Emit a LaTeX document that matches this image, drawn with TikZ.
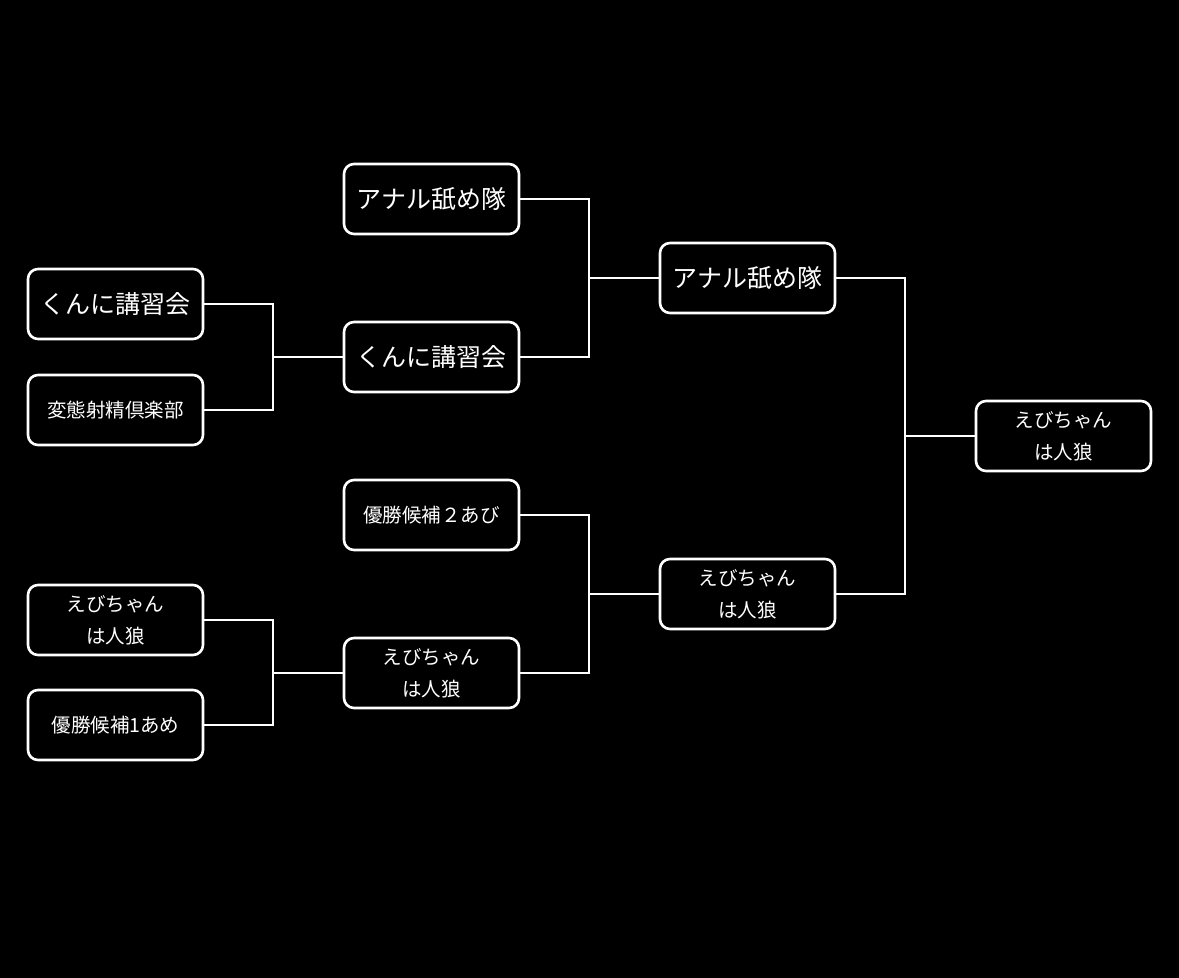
\documentclass[tikz,border=0pt]{standalone}
\usepackage{fontspec}
\setmainfont{Noto Sans CJK JP}
\begin{document}
\begin{tikzpicture}[x=1pt,y=-1pt,
 box/.style={draw=white,line width=2.6pt,rounded corners=10pt,fill=black,minimum width=175pt,minimum height=70pt,text=white,align=center,inner sep=0pt},
 big/.style={font=\fontsize{25}{28}\selectfont},
 sm/.style={font=\fontsize{19.5}{32}\selectfont},
 ln/.style={draw=white,line width=2.6pt}]
\fill[black] (0,0) rectangle (1179,978);
\useasboundingbox (0,0) rectangle (1179,978);
\node[box,big] (a1) at (431.5,199) {アナル舐め隊};
\node[box,big] (a2) at (431.5,357) {くんに講習会};
\node[box,big] (l1) at (115.5,304) {くんに講習会};
\node[box,sm] (l2) at (115.5,410) {変態射精倶楽部};
\node[box,sm] (b1) at (431.5,515) {優勝候補２あび};
\node[box,sm] (b2) at (431.5,673) {えびちゃん\\は人狼};
\node[box,sm] (l3) at (115.5,620) {えびちゃん\\は人狼};
\node[box,sm] (l4) at (115.5,725) {優勝候補1あめ};
\node[box,big] (s1) at (747.5,278) {アナル舐め隊};
\node[box,sm] (s2) at (747.5,594) {えびちゃん\\は人狼};
\node[box,sm] (f) at (1063.5,436) {えびちゃん\\は人狼};
\coordinate (j1) at (273,357);
\coordinate (j2) at (273,673);
\coordinate (j3) at (589,278);
\coordinate (j4) at (589,594);
\coordinate (j5) at (905,436);
\begin{scope}[on background layer/.style={}]
\draw[ln] (l1.east) -| (j1) |- (l2.east); \draw[ln] (j1) -- (a2.west);
\draw[ln] (l3.east) -| (j2) |- (l4.east); \draw[ln] (j2) -- (b2.west);
\draw[ln] (a1.east) -| (j3) |- (a2.east); \draw[ln] (j3) -- (s1.west);
\draw[ln] (b1.east) -| (j4) |- (b2.east); \draw[ln] (j4) -- (s2.west);
\draw[ln] (s1.east) -| (j5) |- (s2.east); \draw[ln] (j5) -- (f.west);
\end{scope}
\end{tikzpicture}
\end{document}
